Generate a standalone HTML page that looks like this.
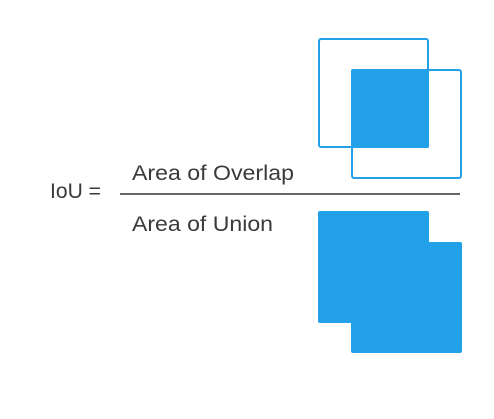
<!DOCTYPE html>
<html><head><meta charset="utf-8"><style>
html,body{margin:0;padding:0;background:#fff;width:494px;height:419px;overflow:hidden}
svg{display:block}
text{font-family:"Liberation Sans",sans-serif;fill:#3a3a3a;font-size:21px}
</style></head><body>
<svg width="494" height="419" xmlns="http://www.w3.org/2000/svg">
<rect x="319" y="39" width="109" height="108" rx="2" fill="none" stroke="#22a0e8" stroke-width="2"/>
<rect x="352" y="70" width="109" height="108" rx="2" fill="none" stroke="#22a0e8" stroke-width="2"/>
<rect x="351" y="69" width="78" height="79" rx="2" fill="#22a0e8"/>
<line x1="120" y1="194" x2="460" y2="194" stroke="#333" stroke-width="1.6"/>
<path d="M320 211 H427 Q429 211 429 213 V242 H460 Q462 242 462 244 V351 Q462 353 460 353 H353 Q351 353 351 351 V323 H320 Q318 323 318 321 V213 Q318 211 320 211 Z" fill="#22a0e8"/>
<text x="50" y="198" textLength="51" lengthAdjust="spacingAndGlyphs">IoU =</text>
<text x="132" y="180" textLength="162" lengthAdjust="spacingAndGlyphs">Area of Overlap</text>
<text x="132" y="231" textLength="141" lengthAdjust="spacingAndGlyphs">Area of Union</text>
</svg>
</body></html>
